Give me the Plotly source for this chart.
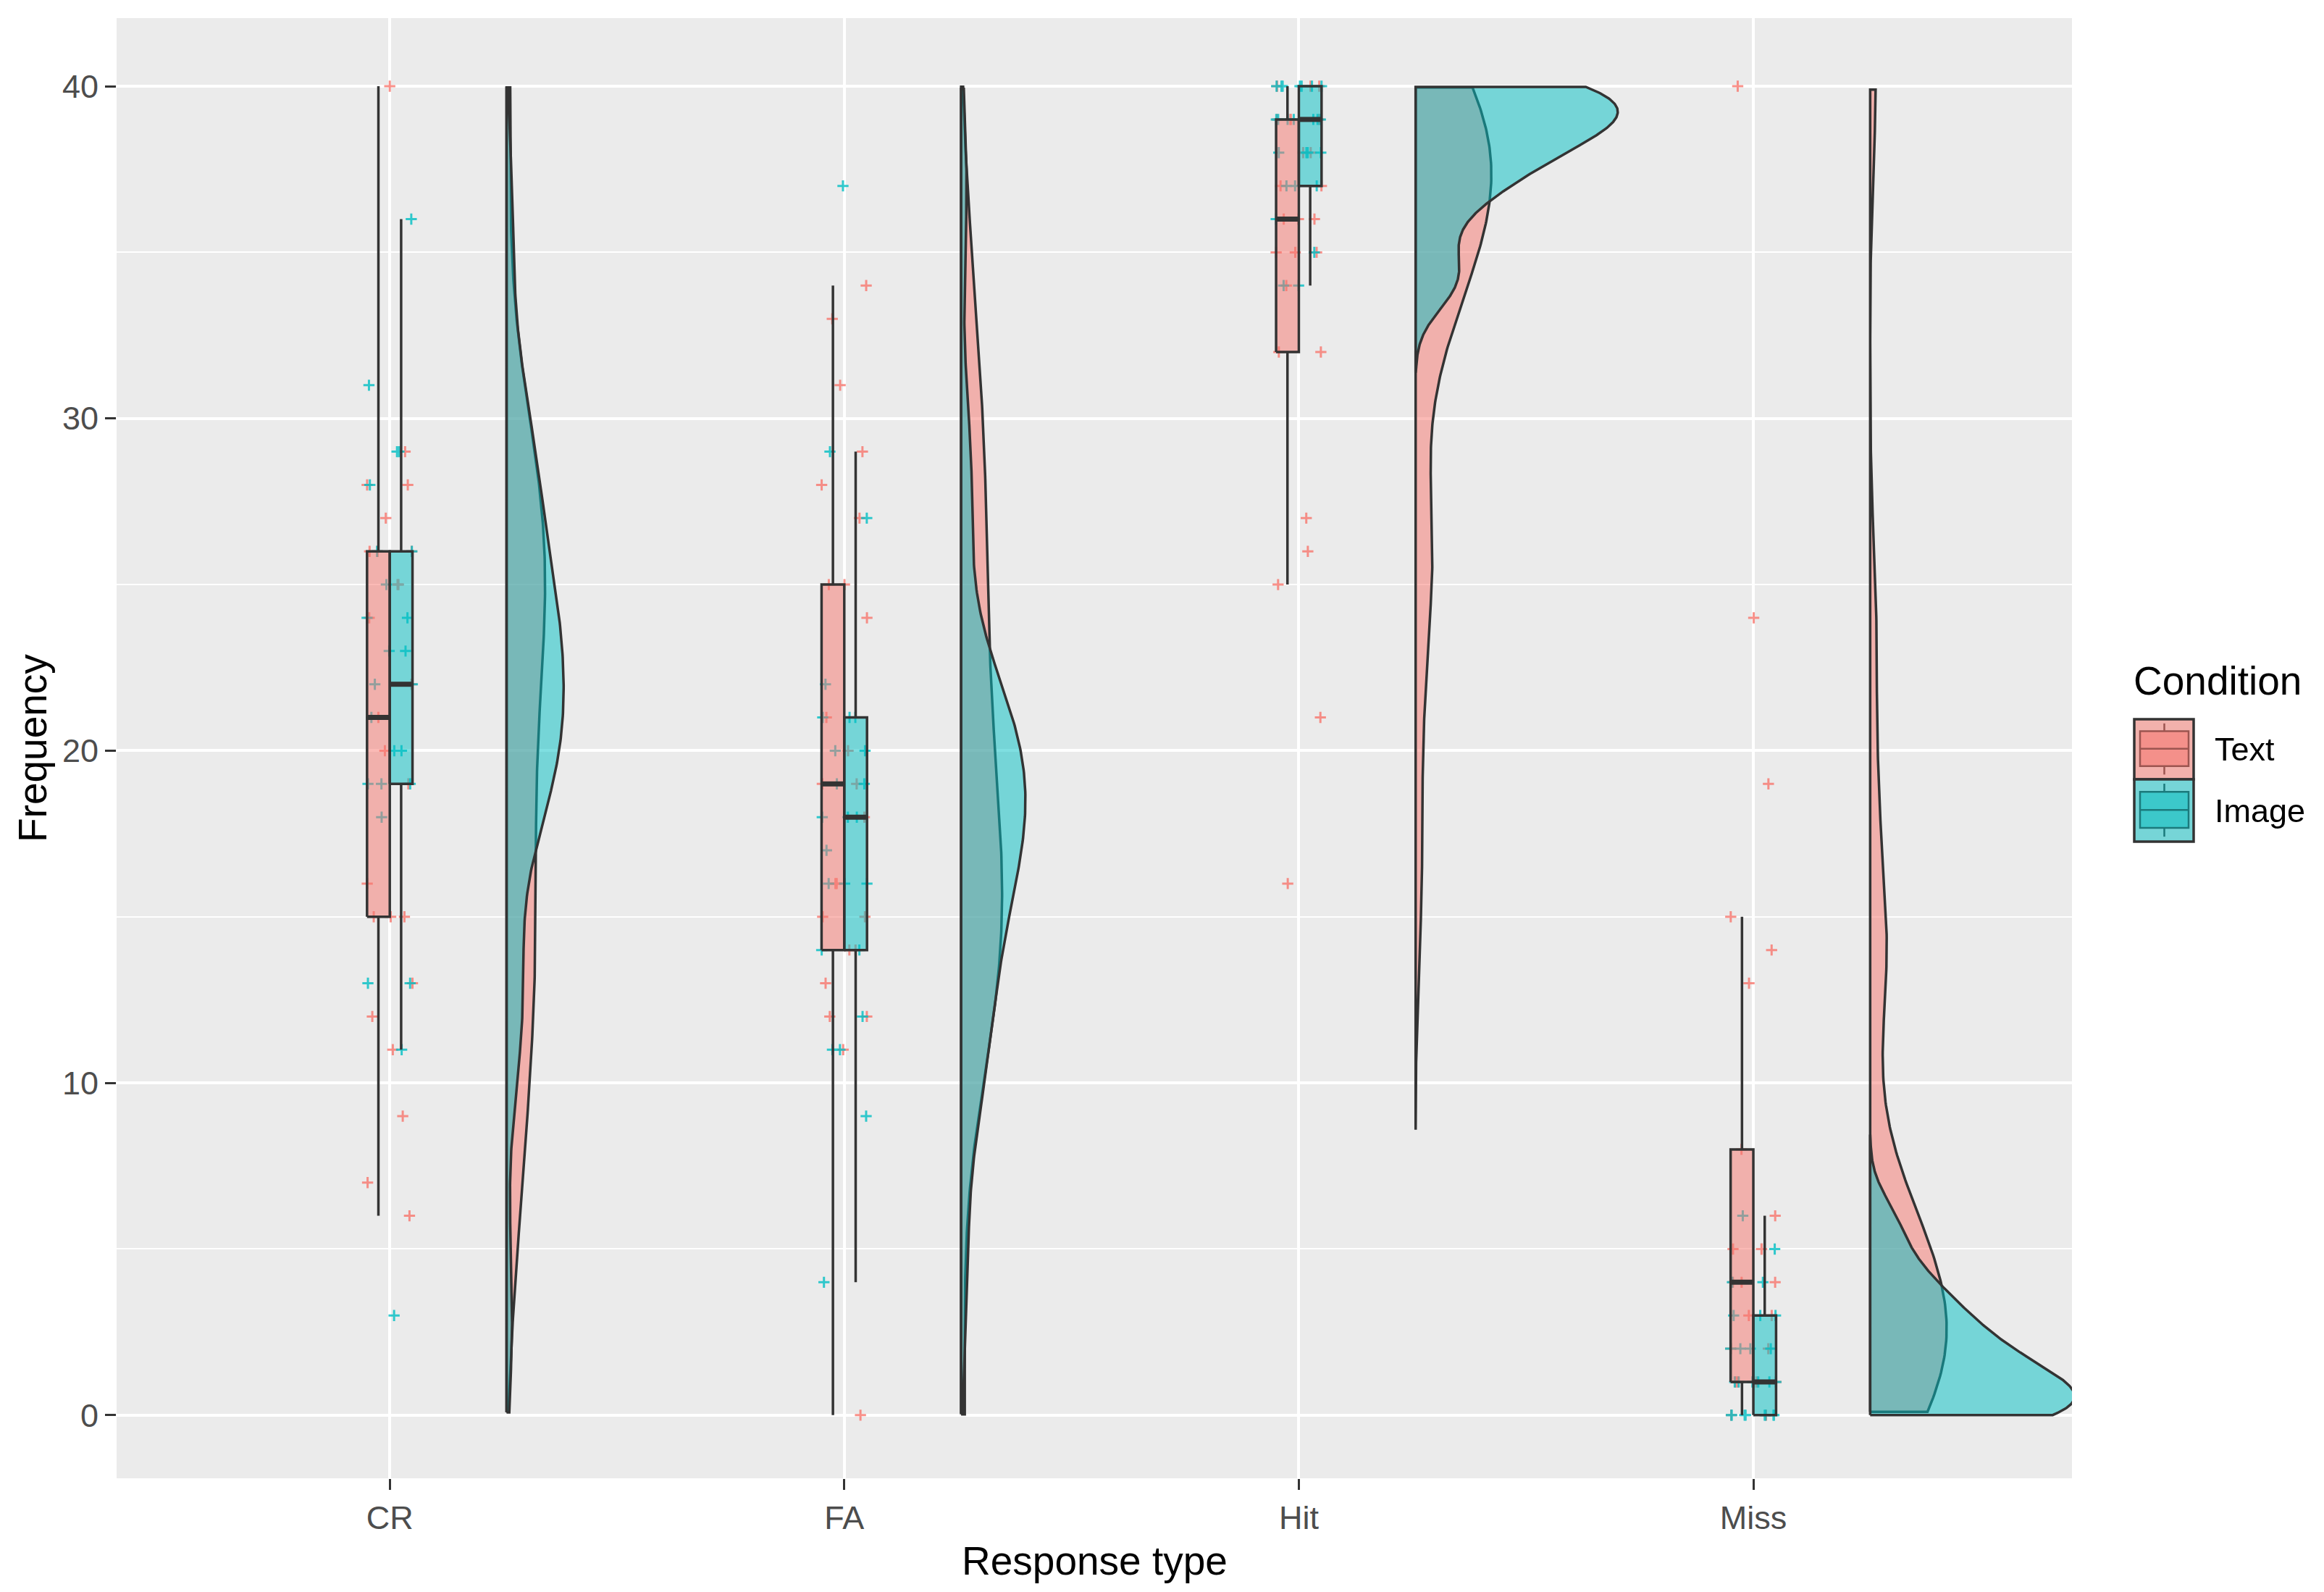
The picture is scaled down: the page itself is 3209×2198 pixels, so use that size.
import numpy as np
import plotly.graph_objects as go

# ---------------- data ----------------
categories = ["CR", "FA", "Hit", "Miss"]
conditions = ["Text", "Image"]
y_ticks = [0, 10, 20, 30, 40]

cr_text = [40, 29, 28, 28, 27, 26, 26, 26, 25, 25, 24, 22, 21, 20, 19, 16, 15, 15, 15, 13, 12, 11, 9, 7, 6]
cr_image = [36, 31, 29, 29, 28, 26, 26, 25, 24, 24, 23, 23, 22, 22, 21, 20, 20, 19, 19, 19, 18, 13, 13, 11, 3]
fa_text = [34, 33, 31, 29, 28, 27, 25, 25, 24, 21, 20, 19, 19, 18, 16, 16, 15, 15, 14, 14, 13, 12, 12, 11, 0]
fa_image = [37, 29, 27, 22, 21, 21, 21, 20, 20, 19, 19, 18, 18, 18, 17, 16, 16, 16, 14, 14, 12, 11, 11, 9, 4]
hit_text = [40, 40, 40, 39, 39, 39, 39, 38, 38, 37, 37, 36, 36, 36, 35, 35, 35, 34, 32, 32, 27, 26, 25, 21, 16]
hit_image = [40, 40, 40, 40, 40, 40, 40, 39, 39, 39, 39, 39, 39, 39, 38, 38, 38, 38, 37, 37, 37, 36, 35, 34, 34]
miss_text = [40, 24, 19, 15, 14, 13, 8, 6, 5, 5, 5, 4, 4, 4, 3, 3, 2, 2, 1, 1, 1, 1, 1, 0, 0]
miss_image = [6, 5, 4, 4, 3, 3, 3, 2, 2, 2, 2, 1, 1, 1, 1, 1, 1, 0, 0, 0, 0, 0, 0, 0, 0]

data = {
    ("CR", "Text"): cr_text, ("CR", "Image"): cr_image,
    ("FA", "Text"): fa_text, ("FA", "Image"): fa_image,
    ("Hit", "Text"): hit_text, ("Hit", "Image"): hit_image,
    ("Miss", "Text"): miss_text, ("Miss", "Image"): miss_image,
}
Y_LIMITS = (0, 40)

# ---------------- styling ----------------
PAGE_W, PAGE_H = 3209, 2198
BODY = 8                                # default html body margin
W, H = PAGE_W - 2 * BODY, PAGE_H - 2 * BODY
PL, PR, PT, PB = 161, 2861, 25, 2041    # panel edges in page pixels
FONT = "Liberation Sans, Arial, sans-serif"
COL = {"Text": "#F8766D", "Image": "#00BFC4"}
FILL = {"Text": "rgba(248,118,109,0.5)", "Image": "rgba(0,191,196,0.5)"}
OUTLINE = "#333333"
VIOLIN_NUDGE = 0.257
VIOLIN_HALF = 0.45
BOX_W = 0.05
JITTER = 0.05
LW = 3.5


def bw_nrd0(x):
    x = np.asarray(x, float)
    hi = x.std(ddof=1)
    q75, q25 = np.percentile(x, [75, 25])
    lo = min(hi, (q75 - q25) / 1.34)
    if lo == 0:
        lo = hi if hi > 0 else 1.0
    return 0.9 * lo * len(x) ** -0.2


def kde(vals):
    x = np.asarray(vals, float)
    bw = bw_nrd0(x)
    grid = np.linspace(x.min() - 3 * bw, x.max() + 3 * bw, 512)
    d = np.exp(-0.5 * ((grid[:, None] - x[None, :]) / bw) ** 2).sum(1) / (len(x) * bw * np.sqrt(2 * np.pi))
    keep = (grid >= Y_LIMITS[0]) & (grid <= Y_LIMITS[1])
    return grid[keep], d[keep]


fig = go.Figure()

# ---------------- half violins ----------------
dens = {k: kde(v) for k, v in data.items()}
gmax = max(d.max() for _, d in dens.values())
for i, cat in enumerate(categories):
    base = i + 1 + VIOLIN_NUDGE
    for cond in conditions:
        y, d = dens[(cat, cond)]
        w = d / gmax * VIOLIN_HALF
        xs = np.concatenate([np.full(len(y), base), (base + w)[::-1], [base]])
        ys = np.concatenate([y, y[::-1], [y[0]]])
        fig.add_trace(go.Scatter(x=xs, y=ys, mode="lines", fill="toself",
                                 fillcolor=FILL[cond],
                                 line=dict(color=OUTLINE, width=LW),
                                 hoverinfo="skip", showlegend=False))

# ---------------- jittered points ----------------
for ci, cond in enumerate(conditions):
    xs, ys = [], []
    for i, cat in enumerate(categories):
        v = data[(cat, cond)]
        k = np.arange(len(v)) + 0.5 * ci
        jit = JITTER * np.sin(k * 2.399963 + 1.3 * i + 0.7 * ci)
        xs += list(i + 1 + jit)
        ys += list(v)
    fig.add_trace(go.Scatter(x=xs, y=ys, mode="markers", opacity=0.8,
                             marker=dict(symbol="cross-thin", size=11, color=COL[cond],
                                         line=dict(color=COL[cond], width=3)),
                             hoverinfo="skip", showlegend=False))

# ---------------- boxplots ----------------
for cond, off in (("Text", -BOX_W / 2), ("Image", BOX_W / 2)):
    rx, ry, wx, wy, mx, my = [], [], [], [], [], []
    for i, cat in enumerate(categories):
        v = np.asarray(data[(cat, cond)], float)
        q1, med, q3 = np.percentile(v, [25, 50, 75])
        iqr = q3 - q1
        lo = v[v >= q1 - 1.5 * iqr].min()
        hi = v[v <= q3 + 1.5 * iqr].max()
        c = i + 1 + off
        x0, x1 = c - BOX_W / 2, c + BOX_W / 2
        rx += [x0, x1, x1, x0, x0, None]
        ry += [q1, q1, q3, q3, q1, None]
        wx += [c, c, None, c, c, None]
        wy += [q3, hi, None, q1, lo, None]
        mx += [x0, x1, None]
        my += [med, med, None]
    fig.add_trace(go.Scatter(x=wx, y=wy, mode="lines", line=dict(color=OUTLINE, width=LW),
                             hoverinfo="skip", showlegend=False))
    fig.add_trace(go.Scatter(x=rx, y=ry, mode="lines", fill="toself", fillcolor=FILL[cond],
                             line=dict(color=OUTLINE, width=LW),
                             hoverinfo="skip", showlegend=False))
    fig.add_trace(go.Scatter(x=mx, y=my, mode="lines", line=dict(color=OUTLINE, width=2 * LW),
                             hoverinfo="skip", showlegend=False))


# ---------------- legend (drawn manually, ggplot style) ----------------
def px2x(px):
    return (px - PL) / (PR - PL)


def py2y(py):
    return (PB - py) / (PB - PT)


shapes = []
annotations = []
keys = [("Text", 993, 1076, "#F2B1AC", "#F4908A", "#9C5550"),
        ("Image", 1076, 1162, "#76D5D7", "#3CC8CA", "#1B7A7C")]
kx0, kx1 = 2947, 3029
for label, ky0, ky1, bg, inner, edge in keys:
    shapes.append(dict(type="rect", xref="paper", yref="paper",
                       x0=px2x(kx0), x1=px2x(kx1), y0=py2y(ky1), y1=py2y(ky0),
                       fillcolor=bg, line=dict(color=OUTLINE, width=3.5), layer="above"))
    kh = ky1 - ky0
    b0, b1 = ky0 + 0.2 * kh, ky1 - 0.22 * kh
    bm = (b0 + b1) / 2
    shapes.append(dict(type="rect", xref="paper", yref="paper",
                       x0=px2x(2955), x1=px2x(3022), y0=py2y(b1), y1=py2y(b0),
                       fillcolor=inner, line=dict(color=edge, width=2.5), layer="above"))
    for (a, b) in ((ky0 + 0.07 * kh, b0), (b1, ky1 - 0.08 * kh)):
        shapes.append(dict(type="line", xref="paper", yref="paper",
                           x0=px2x(2988.5), x1=px2x(2988.5), y0=py2y(a), y1=py2y(b),
                           line=dict(color=edge, width=2.5), layer="above"))
    shapes.append(dict(type="line", xref="paper", yref="paper",
                       x0=px2x(2955), x1=px2x(3022), y0=py2y(bm), y1=py2y(bm),
                       line=dict(color=edge, width=2.5), layer="above"))
    annotations.append(dict(text=label, xref="paper", yref="paper", x=px2x(3056), y=py2y((ky0 + ky1) / 2),
                            xanchor="left", yanchor="middle", showarrow=False,
                            font=dict(family=FONT, size=45, color="#000000")))

annotations.append(dict(text="Condition", xref="paper", yref="paper", x=px2x(2944), y=py2y(940),
                        xanchor="left", yanchor="middle", showarrow=False,
                        font=dict(family=FONT, size=55, color="#000000")))
annotations.append(dict(text="Response type", xref="paper", yref="paper", x=0.5, y=py2y(2155),
                        xanchor="center", yanchor="middle", showarrow=False,
                        font=dict(family=FONT, size=55, color="#000000")))
annotations.append(dict(text="Frequency", xref="paper", yref="paper", x=px2x(45), y=0.5,
                        xanchor="center", yanchor="middle", textangle=-90, showarrow=False,
                        font=dict(family=FONT, size=55, color="#000000")))

fig.update_layout(
    width=W, height=H,
    margin=dict(l=PL - BODY, r=W - (PR - BODY), t=PT - BODY, b=H - (PB - BODY), pad=0),
    paper_bgcolor="white", plot_bgcolor="#EBEBEB",
    showlegend=False,
    font=dict(family=FONT),
    shapes=shapes, annotations=annotations,
    xaxis=dict(range=[0.399, 4.701], tickvals=[1, 2, 3, 4], ticktext=categories,
               showgrid=True, gridcolor="white", gridwidth=4, zeroline=False, showline=False,
               ticks="outside", ticklen=15, tickwidth=3, tickcolor=OUTLINE,
               tickfont=dict(family=FONT, size=45, color="#4D4D4D")),
    yaxis=dict(range=[-1.9, 42.05], tickvals=y_ticks, ticktext=[str(t) for t in y_ticks],
               showgrid=True, gridcolor="white", gridwidth=4, zeroline=False, showline=False,
               ticks="outside", ticklen=15, tickwidth=3, tickcolor=OUTLINE,
               tickfont=dict(family=FONT, size=45, color="#4D4D4D"),
               minor=dict(tickvals=[5, 15, 25, 35], showgrid=True, gridcolor="white",
                          gridwidth=2, ticks="")),
)

fig.write_html("out.html")
